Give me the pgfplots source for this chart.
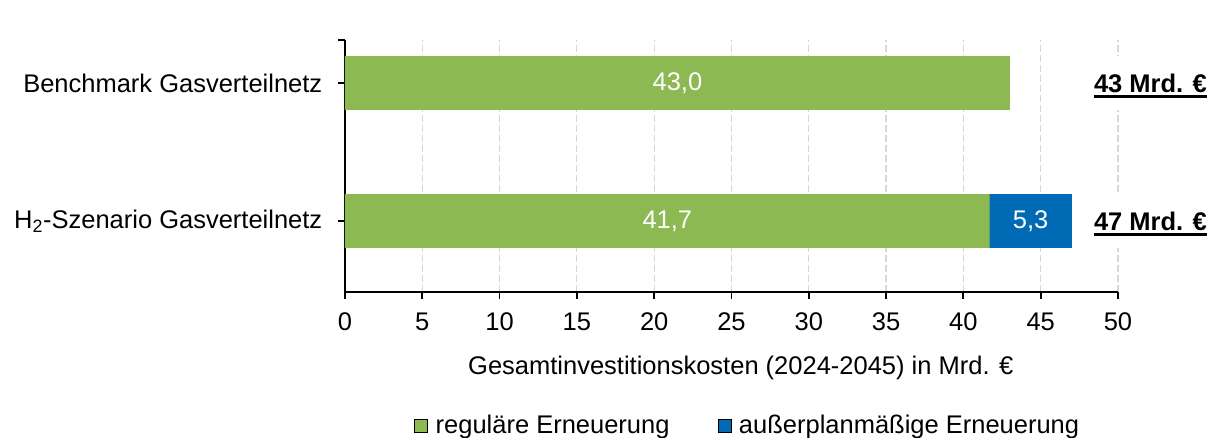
\documentclass[border=0pt]{standalone}
\usepackage{pgfplots}
\pgfplotsset{compat=1.18}
\usepackage{fontspec}
\setmainfont{Liberation Sans}
\definecolor{gr}{RGB}{141,185,83}
\definecolor{bl}{RGB}{0,106,180}
\definecolor{gridc}{RGB}{215,215,215}
\begin{document}
\fontsize{25.5bp}{30bp}\selectfont
\begin{tikzpicture}
\useasboundingbox (-345bp,-146bp) rectangle (872bp,292bp);
\begin{axis}[
  scale only axis, width=773bp, height=252bp,
  xmin=0, xmax=50, ymin=-0.514, ymax=1.312,
  axis x line*=bottom, axis y line*=left,
  axis line style={-, line width=1.8bp, black},
  xtick={0,5,...,50},
  ytick={0,1},
  yticklabels={H\textsubscript{2}-Szenario Gasverteilnetz, Benchmark Gasverteilnetz},
  extra y ticks={1.312}, extra y tick labels={},
  tick align=outside, major tick length=7bp,
  tick style={line width=1.8bp, black},
  xmajorgrids,
  x grid style={gridc, line width=1.2bp, dash pattern=on 7bp off 3bp},
  /pgf/number format/assume math mode=true,
  xticklabel style={yshift=-5bp},
  yticklabel style={xshift=-7bp},
  xlabel={Gesamtinvestitionskosten (2024-2045) in Mrd. €},
  xlabel style={at={(rel axis cs:0.512,-0.302)}, anchor=center},
  legend columns=2,
  legend style={at={(rel axis cs:0.521,-0.532)}, anchor=center, draw=none, fill=none,
    /tikz/every odd column/.append style={column sep=6bp},
    /tikz/every even column/.append style={column sep=46bp}},
  legend image code/.code={\fill[#1] (0bp,-6.5bp) rectangle (13bp,6.5bp);},
  legend cell align=left,
  clip=false,
]
\addplot[xbar, fill=bl, draw=none, bar width=0.39, bar shift=0pt, forget plot]
  coordinates {(47.0,0)};
\addplot[xbar, fill=gr, draw=none, bar width=0.39, bar shift=0pt, forget plot]
  coordinates {(43.0,1) (41.7,0)};
\addplot[draw=none, mark=none, forget plot, nodes near coords, point meta=explicit symbolic,
  nodes near coords style={text=white, anchor=center}]
  coordinates {(21.5,1) [43,0] (20.85,0) [41,7] (44.35,0) [5,3]};
\addlegendimage{fill=gr}
\addlegendentry{reguläre Erneuerung}
\addlegendimage{fill=bl}
\addlegendentry{außerplanmäßige Erneuerung}
\node[fill=white, minimum height=54bp, inner xsep=2bp] (a) at (axis cs:52.1,1) {\bfseries 43 Mrd. €};
\node[fill=white, minimum height=54bp, inner xsep=2bp] (b) at (axis cs:52.1,0) {\bfseries 47 Mrd. €};
\draw[line width=2.6bp] ([xshift=2bp,yshift=-4.5bp]a.base west) -- ([xshift=-2bp,yshift=-4.5bp]a.base east);
\draw[line width=2.6bp] ([xshift=2bp,yshift=-4.5bp]b.base west) -- ([xshift=-2bp,yshift=-4.5bp]b.base east);
\end{axis}
\end{tikzpicture}
\end{document}
